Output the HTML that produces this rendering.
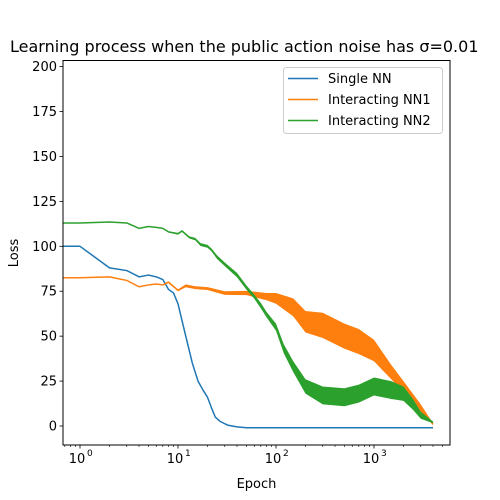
<!DOCTYPE html>
<html><head><meta charset="utf-8"><style>
body{margin:0;background:#fff}
svg{display:block;font-family:"DejaVu Sans","Liberation Sans",sans-serif}
</style></head><body>
<svg id="chart" width="500" height="500"></svg>
<script>
const blueEpochs=[0.6,1,2,3,4,5,6,7,8,9,10,12,14,16,18,20,22,24,27,32,40,50,4000];
const blueLoss=[100,100,88,86.5,83,84,83,81.5,76,74,68,50,35,25,20,16,10,5,2.5,0.5,-0.5,-1,-1];
const orangeEpochs=[0.6,1,2,3,4,5,6,7,8,10,12,15,20,30,50,80,100,150,200,300,500,700,1000,1500,2000,3000,4000];
const orangeLoss=[82.5,82.5,83,81,77.5,78.5,79,78.5,80,75.5,78,77,76.5,74,74,72,71,66,58,56,50,47,42,30,22,10,1];
const orangeSpread=[0,0,0,0,0,0,0,0,0.5,0.5,0.8,0.8,0.8,1,1.2,2,3,5,6,7,7,7,6,4,3,2,0.5];
const greenEpochs=[0.6,1,2,3,4,5,6,7,8,10,11,13,15,17,20,22,25,30,40,50,60,70,80,100,120,150,200,300,500,700,1000,1500,2000,2500,3000,4000];
const greenLoss=[113,113,113.5,113,110,111,110.5,110,108,107,108.5,105,104,101,100,98,94,90,84,77,72,67,62,55,43,33,22,17,16,18,22,20,18,12,6,2];
const greenSpread=[0,0,0,0,0,0,0,0,0.3,0.5,0.5,0.6,0.7,0.8,0.8,0.8,1,1,1.2,1.2,1.2,1.5,1.5,2,2.5,3,4,5,5,5,5,5,4,3,2,0.5];
const yTicks=[0,25,50,75,100,125,150,175,200];
const xTickExps=[0,1,2,3];

const NS='http://www.w3.org/2000/svg';
const svg=document.getElementById('chart');
const L=63,R=450,T=60.5,B=445;
function xs(e){return 80+98*Math.log10(e);}
function ys(v){return 426-1.797*v;}
function mk(tag,attrs,parent){const el=document.createElementNS(NS,tag);for(const k in attrs)el.setAttribute(k,attrs[k]);(parent||svg).appendChild(el);return el;}

const clip=mk('clipPath',{id:'clip'});mk('rect',{x:L,y:T,width:R-L,height:B-T},clip);
const plot=mk('g',{'clip-path':'url(#clip)'});



function band(ep,val,sp,color,name){
  let up=ep.map((e,i)=>xs(e)+','+ys(val[i]+sp[i]));
  let dn=ep.map((e,i)=>xs(e)+','+ys(val[i]-sp[i])).reverse();
  const p=mk('polygon',{points:up.concat(dn).join(' '),fill:color,stroke:'none'},plot);
  
  
}
function line(ep,val,color,name){
  const p=mk('polyline',{points:ep.map((e,i)=>xs(e)+','+ys(val[i])).join(' '),fill:'none',stroke:color,'stroke-width':1.5,'stroke-linejoin':'round'},plot);
  
  
}
line(blueEpochs,blueLoss,'#1f77b4','single-nn');
band(orangeEpochs,orangeLoss,orangeSpread,'#ff7f0e','interacting-nn1');
line(orangeEpochs,orangeLoss,'#ff7f0e','interacting-nn1');
band(greenEpochs,greenLoss,greenSpread,'#2ca02c','interacting-nn2');
line(greenEpochs,greenLoss,'#2ca02c','interacting-nn2');

const frame=mk('rect',{x:L,y:T,width:R-L,height:B-T,fill:'none',stroke:'#000','stroke-width':1});



yTicks.forEach(v=>{
  const y=ys(v);
  mk('line',{x1:L-3.5,x2:L,y1:y,y2:y,stroke:'#000','stroke-width':0.8});
  const t=mk('text',{x:L-6,y:y+4.5,'text-anchor':'end','font-size':13});
  t.textContent=v;
  
  
});
for(let d=-1;d<=3;d++){for(let m=2;m<=9;m++){const x=xs(m*Math.pow(10,d));if(x>L&&x<R)mk('line',{x1:x,x2:x,y1:B,y2:B+2,stroke:'#000','stroke-width':0.6});}}
xTickExps.forEach(e=>{
  const x=xs(Math.pow(10,e));
  mk('line',{x1:x,x2:x,y1:B,y2:B+3.5,stroke:'#000','stroke-width':0.8});
  const t=mk('text',{x:x-3,y:B+18,'text-anchor':'middle','font-size':13});
  t.textContent='10';
  
  
  const s=mk('text',{x:x+7,y:B+11,'font-size':9});s.textContent=e;
});
const xl=mk('text',{x:256.5,y:488,'text-anchor':'middle','font-size':13});xl.textContent='Epoch';


const yl=mk('text',{x:18,y:253,'text-anchor':'middle','font-size':13,transform:'rotate(-90 18 253)'});yl.textContent='Loss';


const ti=mk('text',{x:10,y:52,'font-size':16});ti.textContent='Learning process when the public action noise has σ=0.01';



const lg=mk('g',{});


mk('rect',{x:283.5,y:67.5,width:159,height:66,rx:3,fill:'#fff',stroke:'#ccc','stroke-width':1},lg);
[['Single NN','#1f77b4'],['Interacting NN1','#ff7f0e'],['Interacting NN2','#2ca02c']].forEach((it,i)=>{
  const y=78.5+21*i;
  const g=mk('g',{},lg);
  
  
  mk('line',{x1:288,x2:318,y1:y,y2:y,stroke:it[1],'stroke-width':1.5},g);
  const t=mk('text',{x:328,y:y+4.5,'font-size':13},g);t.textContent=it[0];
});
</script>
</body></html>
